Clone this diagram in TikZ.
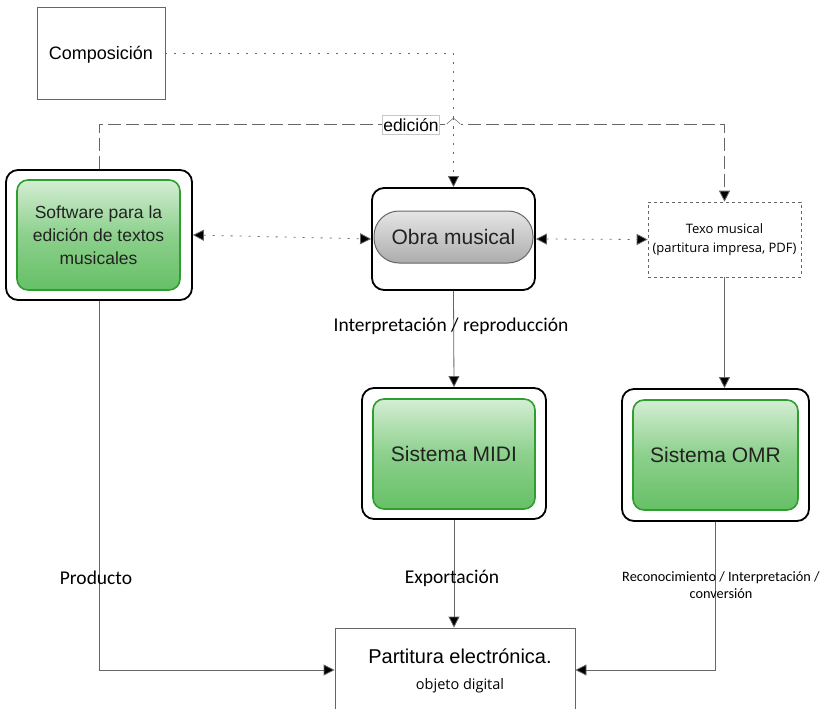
\documentclass[tikz,border=0pt]{standalone}
\usepackage{fontspec}
\setmainfont{Liberation Sans}
\newfontfamily\labelfont{Carlito}
\newfontfamily\smallfont{Open Sans}
\usetikzlibrary{arrows.meta,shapes.misc,calc}
\definecolor{txt}{HTML}{222222}
\definecolor{wire}{HTML}{666666}
\definecolor{gborder}{HTML}{2E9E2E}
\definecolor{gtop}{HTML}{D4EED4}
\definecolor{gbot}{HTML}{66C066}
\tikzset{
  frame/.style={draw=black, line width=1.8pt, rounded corners=12pt, fill=white},
  greenbox/.style={draw=gborder, line width=1.6pt, rounded corners=11pt,
    top color=gtop, bottom color=gbot, middle color=gbot!75!white,
    text=txt, align=center},
  pill/.style={draw=gray!80!black, line width=1pt, rounded corners=25pt,
    top color=gray!20, bottom color=gray!65, text=txt},
  plainbox/.style={draw=wire, line width=0.8pt, fill=white, text=black, align=center},
  dotline/.style={draw=wire, line width=0.8pt, dash pattern=on 2pt off 7pt},
  dashline/.style={draw=wire, line width=0.8pt, dash pattern=on 13pt off 5pt},
  solidline/.style={draw=wire, line width=0.8pt},
  tip/.style={-{Triangle[length=11pt,width=11pt,fill=black]}},
  tips/.style={{Triangle[length=11pt,width=11pt,fill=black]}-{Triangle[length=11pt,width=11pt,fill=black]}},
  lbl/.style={font=\labelfont\fontsize{19.5}{22}\selectfont, text=black, align=center},
}
\begin{document}
\begin{tikzpicture}[x=1pt,y=-1pt]
\useasboundingbox (0,0) rectangle (823,709);

% boxes
\node[plainbox, minimum width=128pt, minimum height=92pt] (comp) at (101,53) {};
\node[font=\fontsize{18}{21}\selectfont] (compT) at (101,54.5) {Composición};

\node[frame, minimum width=186pt, minimum height=130pt] (softF) at (99,235) {};
\node[greenbox, minimum width=163pt, minimum height=110pt,
  font=\fontsize{17.5}{23}\selectfont] (soft) at (98.5,235)
  {Software para la\\edición de textos\\musicales};

\node[frame, minimum width=163pt, minimum height=102pt] (obraF) at (453.5,239) {};
\node[pill, minimum width=159pt, minimum height=52pt,
  font=\fontsize{21}{24}\selectfont] (obra) at (453.5,237) {Obra musical};

\node[draw=wire, line width=0.6pt, dash pattern=on 3pt off 3pt, fill=white,
  minimum width=153pt, minimum height=75pt, align=center,
  font=\smallfont\fontsize{13}{19}\selectfont] (texo) at (724.5,239.5)
  {Texo musical\\(partitura impresa, PDF)};

\node[frame, minimum width=184pt, minimum height=131pt] (midiF) at (454,453.5) {};
\node[greenbox, minimum width=162pt, minimum height=110pt,
  font=\fontsize{21}{24}\selectfont] (midi) at (454,454) {Sistema MIDI};

\node[frame, minimum width=187pt, minimum height=132pt] (omrF) at (715.5,455) {};
\node[greenbox, minimum width=165pt, minimum height=110pt,
  font=\fontsize{21}{24}\selectfont] (omr) at (715.5,455) {Sistema OMR};

\node[plainbox, minimum width=240pt, minimum height=84pt] (part) at (455,670) {};
\node[font=\fontsize{20}{22}\selectfont] (partT) at (460,656) {Partitura electrónica.};
\node[font=\smallfont\fontsize{14.5}{16}\selectfont] (partS) at (460,686) {objeto digital};

% composition path (dotted)
\draw[dotline, tip] (comp.east) -| (obraF.north);

% editing path (long dashes)
\draw[dashline, tip] (softF.north) -- ++(0,-45) coordinate (edL) -| (texo.north);
\coordinate (hop) at (obraF.north |- edL);
\fill[white] ($(hop)+(-7,-2)$) rectangle ($(hop)+(7,2)$);
\draw[wire, line width=0.5pt] ($(hop)+(-7,0)$) -- ($(hop)+(0,-6)$) -- ($(hop)+(7,0)$);
\draw[dotline] ($(hop)+(0,-6)$) -- ($(hop)+(0,6)$);
\node[draw=gray!45, line width=0.6pt, fill=white, inner xsep=1pt, inner ysep=3pt,
  font=\fontsize{17.5}{20}\selectfont] (ed) at (411,125) {edición};

% links between the upper row
\draw[dotline, tips] (softF.east) -- (obraF.west);
\draw[dotline, tips] (obraF.east) -- (texo.west);

% vertical flows
\draw[solidline, tip] (obraF.south) -- (midiF.north);
\draw[solidline, tip] (texo.south) -- (texo.south |- omrF.north);
\draw[solidline, tip] (midiF.south) -- (midiF.south |- part.north);
\draw[solidline, tip] (softF.south) |- (part.west);
\draw[solidline, tip] (omrF.south) |- (part.east);

% flow labels
\node[lbl] (lInt) at (451,326) {Interpretación / reproducción};
\node[lbl] (lExp) at (452,578) {Exportación};
\node[lbl] (lProd) at (96,578) {Producto};
\node[lbl, font=\labelfont\fontsize{14.3}{17}\selectfont] (lRec) at (721,585)
  {Reconocimiento / Interpretación /\\conversión};
\end{tikzpicture}
\end{document}
